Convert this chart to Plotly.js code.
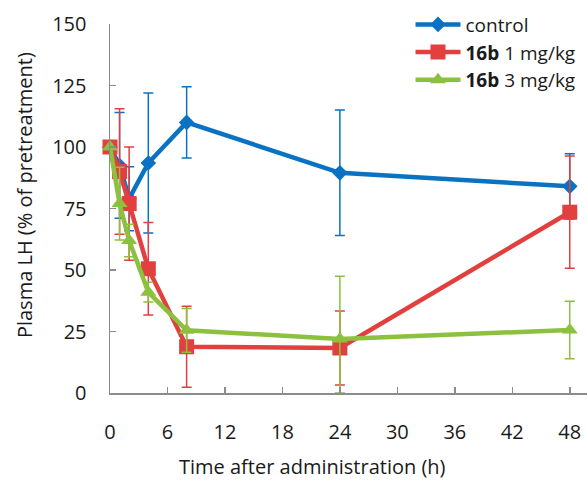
<!DOCTYPE html>
<html>
<head>
<meta charset="utf-8">
<script src="https://cdn.plot.ly/plotly-3.0.1.min.js"></script>
<style>html,body{margin:0;padding:0;background:#fff;}#chart{width:587px;height:482px;}</style>
</head>
<body>
<div id="chart"></div>
<script>
var timeH = [0, 1, 2, 4, 8, 24, 48];
var xTicks = [0, 6, 12, 18, 24, 30, 36, 42, 48];
var yTicks = [0, 25, 50, 75, 100, 125, 150];

var controlVals = [100, 92.5, 79, 93.5, 110, 89.5, 84];
var controlErr  = [0, 21.5, 13, 28.5, 14.5, 25.5, 13.3];

var dose1Vals = [100, 90, 77, 50.5, 18.8, 18.3, 73.5];
var dose1Err  = [0, 25.5, 23, 18.8, 16.5, 15, 22.8];

var dose3Vals = [100, 77, 62, 41, 25.5, 22, 25.6];
var dose3ErrPlus  = [0, 14.8, 6.6, 4, 8.9, 25.5, 11.7];
var dose3ErrMinus = [0, 14.8, 6.6, 4, 8.9, 22, 11.7];

var names = ['control', '<b>16b</b> 1 mg/kg', '<b>16b</b> 3 mg/kg'];
var colors = ['#0a72c2', '#e23f3f', '#8cc03f'];
var xTitle = 'Time after administration (h)';
var yTitle = 'Plasma LH (% of pretreatment)';

function errObj(plus, minus, c) {
  return {type: 'data', array: plus, arrayminus: minus, symmetric: false,
          visible: true, color: c, thickness: 1.5, width: 5};
}

var traces = [
  {x: timeH, y: controlVals, name: names[0], type: 'scatter', mode: 'lines+markers',
   line: {color: colors[0], width: 4.5},
   marker: {symbol: 'diamond', size: 12, color: colors[0]},
   error_y: errObj(controlErr, controlErr, colors[0]), cliponaxis: false},
  {x: timeH, y: dose1Vals, name: names[1], type: 'scatter', mode: 'lines+markers',
   line: {color: colors[1], width: 4.5},
   marker: {symbol: 'square', size: 15, color: colors[1]},
   error_y: errObj(dose1Err, dose1Err, colors[1]), cliponaxis: false},
  {x: timeH, y: dose3Vals, name: names[2], type: 'scatter', mode: 'lines+markers',
   line: {color: colors[2], width: 4.5},
   marker: {symbol: 'triangle-up', size: 14, color: colors[2]},
   error_y: errObj(dose3ErrPlus, dose3ErrMinus, colors[2]), cliponaxis: false}
];

var fontFam = '"Open Sans", Lato, sans-serif';
var txtCol = '#1a1a1a';
var layout = {
  width: 587, height: 482,
  margin: {l: 110, r: 0, t: 24, b: 89},
  paper_bgcolor: '#ffffff', plot_bgcolor: '#ffffff',
  font: {family: fontFam, size: 19, color: txtCol},
  showlegend: true,
  legend: {x: 0.63, y: 1.05, xanchor: 'left', yanchor: 'top', itemwidth: 45,
           bgcolor: 'rgba(0,0,0,0)', font: {family: fontFam, size: 19, color: txtCol},
           tracegroupgap: 0},
  xaxis: {
    range: [0, 49.8], tickmode: 'array', tickvals: xTicks, ticktext: xTicks.map(String),
    showgrid: false, zeroline: false, showline: true, linecolor: '#8c8c8c', linewidth: 1.5,
    ticks: 'inside', ticklen: 6, tickcolor: '#8c8c8c', tickwidth: 1.5,
    ticklabelstandoff: 20,
    tickfont: {family: fontFam, size: 20, color: txtCol}
  },
  yaxis: {
    range: [0, 150], tickmode: 'array', tickvals: yTicks, ticktext: yTicks.map(String),
    showgrid: false, zeroline: false, showline: true, linecolor: '#8c8c8c', linewidth: 1.5,
    ticks: 'inside', ticklen: 6, tickcolor: '#8c8c8c', tickwidth: 1.5,
    ticklabelstandoff: 18,
    tickfont: {family: fontFam, size: 20, color: txtCol}
  },
  annotations: [
    {text: xTitle, xref: 'paper', yref: 'paper', x: 0.4235, y: -0.2005,
     xanchor: 'center', yanchor: 'middle', showarrow: false,
     font: {family: fontFam, size: 20, color: txtCol}},
    {text: yTitle, xref: 'paper', yref: 'paper', x: -0.178, y: 0.5366, textangle: -90,
     xanchor: 'center', yanchor: 'middle', showarrow: false,
     font: {family: fontFam, size: 20, color: txtCol}}
  ]
};

Plotly.newPlot('chart', traces, layout, {displayModeBar: false, staticPlot: true});
</script>
</body>
</html>
